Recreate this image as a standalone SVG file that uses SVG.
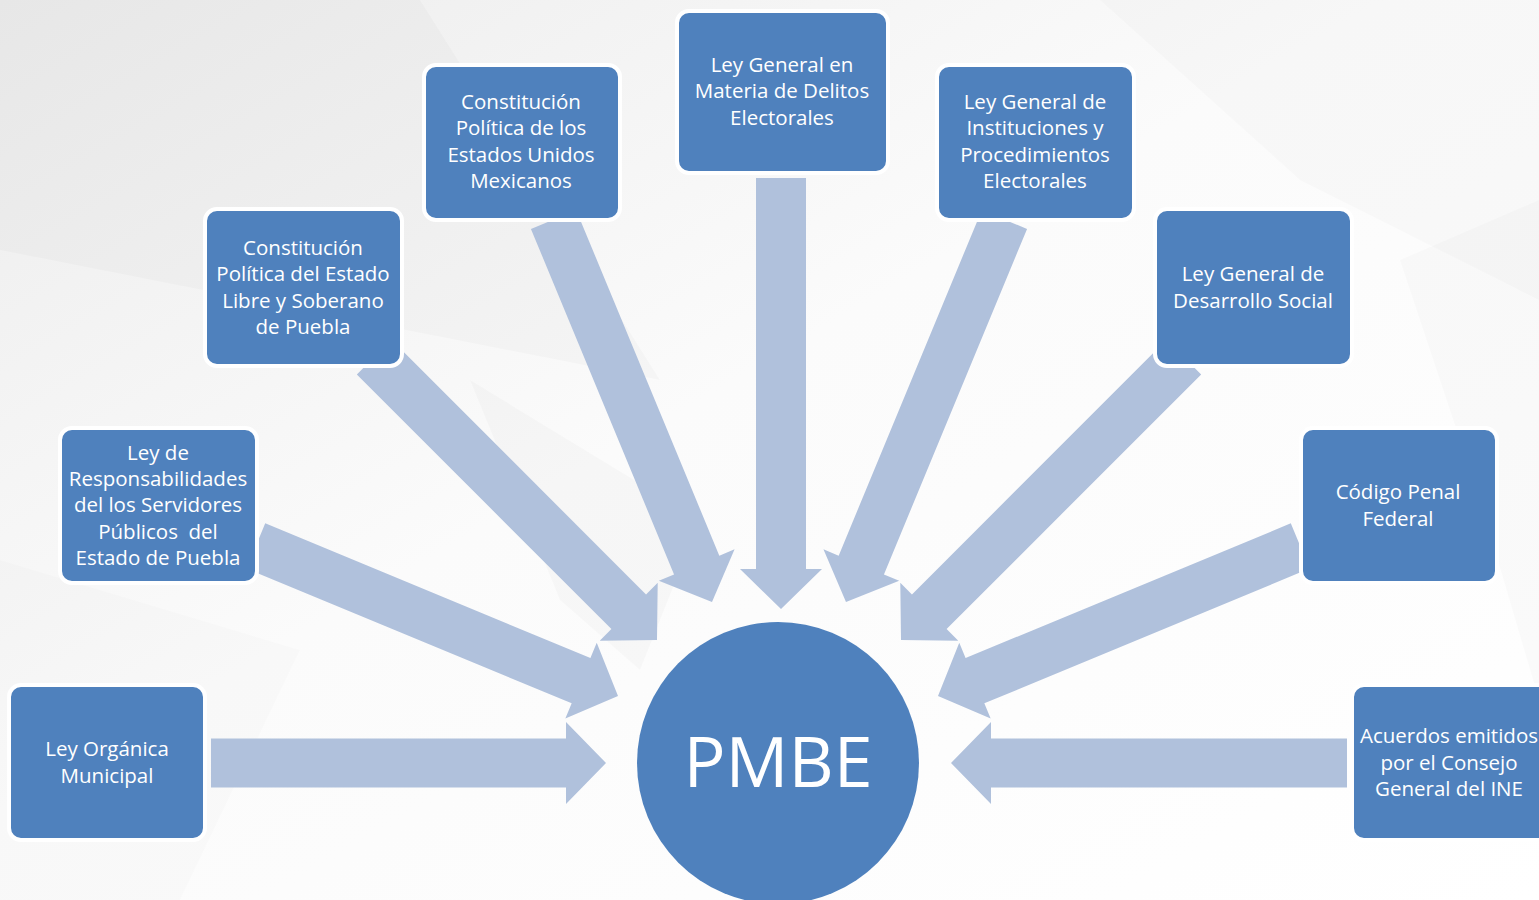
<svg xmlns="http://www.w3.org/2000/svg" width="1539" height="900" viewBox="0 0 1539 900">
<defs>
<linearGradient id="bg" x1="0" y1="0" x2="1" y2="1">
<stop offset="0" stop-color="#ececec"/>
<stop offset="0.45" stop-color="#fbfbfb"/>
<stop offset="1" stop-color="#ffffff"/>
</linearGradient>
<style>
.box{fill:#4F81BD;stroke:#ffffff;stroke-width:4}
.lbl{fill:#ffffff;font-family:"Open Sans","Noto Sans",sans-serif;font-size:20.5px;text-anchor:middle}
.arr{fill:#B0C1DC}
.facet{fill:#000000}
</style>
</defs>
<rect width="1539" height="900" fill="url(#bg)"/>
<g id="background">
<polygon class="facet" fill-opacity="0.02" points="0,0 420,0 660,380 0,250"/>
<polygon class="facet" fill-opacity="0.02" points="470,380 700,520 640,670 560,600"/>
<polygon class="facet" fill-opacity="0.015" points="1100,0 1539,0 1539,300 1300,180"/>
<polygon class="facet" fill-opacity="0.015" points="1400,260 1539,200 1539,700 1480,500"/>
<polygon class="facet" fill-opacity="0.012" points="0,560 300,650 180,900 0,900"/>
</g>
<g id="connectors">
<g transform="translate(606,763) rotate(0)"><polygon class="arr" points="-395,-24.5 -40,-24.5 -40,-41 0,0 -40,41 -40,24.5 -395,24.5"/></g>
<g transform="translate(618,696) rotate(22.5)"><polygon class="arr" points="-392,-24.5 -40,-24.5 -40,-41 0,0 -40,41 -40,24.5 -392,24.5"/></g>
<g transform="translate(657,640) rotate(45)"><polygon class="arr" points="-400,-24.5 -40,-24.5 -40,-41 0,0 -40,41 -40,24.5 -400,24.5"/></g>
<g transform="translate(712,602) rotate(67.5)"><polygon class="arr" points="-414,-24.5 -40,-24.5 -40,-41 0,0 -40,41 -40,24.5 -414,24.5"/></g>
<g transform="translate(781,609) rotate(90)"><polygon class="arr" points="-431,-25 -40,-25 -40,-41 0,0 -40,41 -40,25 -431,25"/></g>
<g transform="translate(846,602) rotate(112.5)"><polygon class="arr" points="-414,-24.5 -40,-24.5 -40,-41 0,0 -40,41 -40,24.5 -414,24.5"/></g>
<g transform="translate(901,640) rotate(135)"><polygon class="arr" points="-400,-24.5 -40,-24.5 -40,-41 0,0 -40,41 -40,24.5 -400,24.5"/></g>
<g transform="translate(938,696) rotate(157.5)"><polygon class="arr" points="-392,-24.5 -40,-24.5 -40,-41 0,0 -40,41 -40,24.5 -392,24.5"/></g>
<g transform="translate(951,763) rotate(180)"><polygon class="arr" points="-396,-24.5 -40,-24.5 -40,-41 0,0 -40,41 -40,24.5 -396,24.5"/></g>
</g>
<g id="n1">
<rect class="box" x="9" y="685" width="196" height="155" rx="12"/>
<text class="lbl" x="107" y="756">Ley Orgánica</text>
<text class="lbl" x="107" y="783">Municipal</text>
</g>
<g id="n2">
<rect class="box" x="60" y="428" width="197" height="155" rx="12"/>
<text class="lbl" x="158" y="460">Ley de</text>
<text class="lbl" x="158" y="486">Responsabilidades</text>
<text class="lbl" x="158" y="512">del los Servidores</text>
<text class="lbl" x="158" y="539">Públicos&#160; del</text>
<text class="lbl" x="158" y="565">Estado de Puebla</text>
</g>
<g id="n3">
<rect class="box" x="205" y="209" width="197" height="157" rx="12"/>
<text class="lbl" x="303" y="255">Constitución</text>
<text class="lbl" x="303" y="281">Política del Estado</text>
<text class="lbl" x="303" y="308">Libre y Soberano</text>
<text class="lbl" x="303" y="334">de Puebla</text>
</g>
<g id="n4">
<rect class="box" x="424" y="65" width="196" height="155" rx="12"/>
<text class="lbl" x="521" y="109">Constitución</text>
<text class="lbl" x="521" y="135">Política de los</text>
<text class="lbl" x="521" y="162">Estados Unidos</text>
<text class="lbl" x="521" y="188">Mexicanos</text>
</g>
<g id="n5">
<rect class="box" x="677" y="11" width="211" height="162" rx="12"/>
<text class="lbl" x="782" y="72">Ley General en</text>
<text class="lbl" x="782" y="98">Materia de Delitos</text>
<text class="lbl" x="782" y="125">Electorales</text>
</g>
<g id="n6">
<rect class="box" x="937" y="65" width="197" height="155" rx="12"/>
<text class="lbl" x="1035" y="109">Ley General de</text>
<text class="lbl" x="1035" y="135">Instituciones y</text>
<text class="lbl" x="1035" y="162">Procedimientos</text>
<text class="lbl" x="1035" y="188">Electorales</text>
</g>
<g id="n7">
<rect class="box" x="1155" y="209" width="197" height="157" rx="12"/>
<text class="lbl" x="1253" y="281">Ley General de</text>
<text class="lbl" x="1253" y="308">Desarrollo Social</text>
</g>
<g id="n8">
<rect class="box" x="1301" y="428" width="196" height="155" rx="12"/>
<text class="lbl" x="1398" y="499">Código Penal</text>
<text class="lbl" x="1398" y="526">Federal</text>
</g>
<g id="n9">
<rect class="box" x="1352" y="685" width="200" height="155" rx="12"/>
<text class="lbl" x="1449" y="743">Acuerdos emitidos</text>
<text class="lbl" x="1449" y="770">por el Consejo</text>
<text class="lbl" x="1449" y="796">General del INE</text>
</g>
<g id="center">
<circle cx="778" cy="763" r="141" fill="#4F81BD"/>
<text x="778" y="787" fill="#ffffff" font-family="'Open Sans','Noto Sans',sans-serif" font-size="70" text-anchor="middle">PMBE</text>
</g>
</svg>
